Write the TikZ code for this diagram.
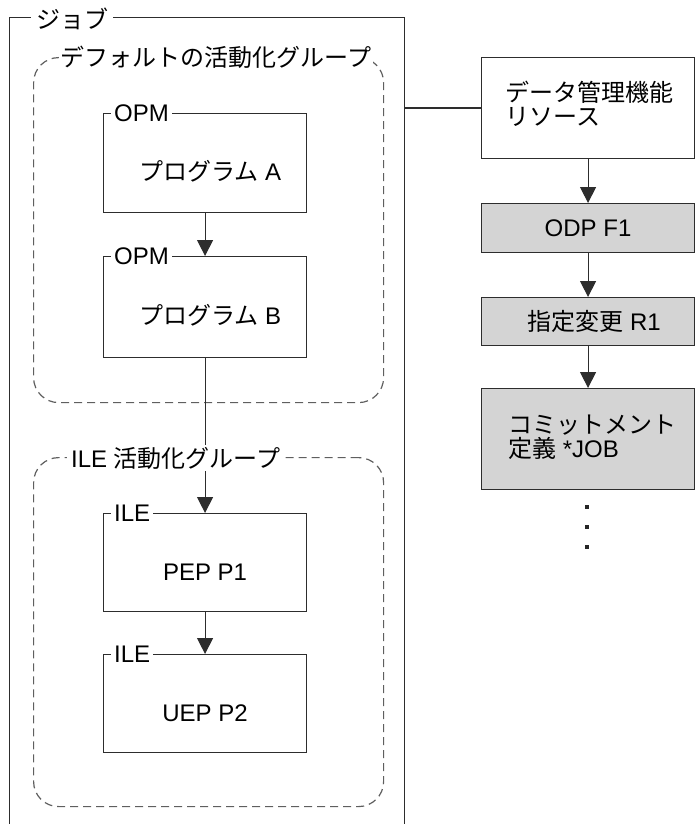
\documentclass[tikz,border=0pt]{standalone}
\usepackage{fontspec}
\setmainfont{Liberation Sans}
\newfontfamily\jp{Noto Sans CJK JP}
\usetikzlibrary{arrows.meta}
\definecolor{ln}{RGB}{45,45,45}
\definecolor{dsh}{RGB}{95,95,95}
\definecolor{shade}{RGB}{212,212,212}
\begin{document}
\begin{tikzpicture}[x=1pt,y=-1pt,
  every node/.style={font=\fontsize{24}{23.5}\selectfont, text=black},
  box/.style={draw=ln, line width=1.1pt, minimum width=203pt, minimum height=99pt, inner sep=0pt},
  rbox/.style={draw=ln, line width=1.1pt, fill=shade, inner sep=0pt, minimum width=213pt},
  grp/.style={draw=dsh, line width=1.2pt, dash pattern=on 8pt off 5pt, rounded corners=25pt, inner sep=0pt},
  tag/.style={fill=white, inner xsep=3pt, inner ysep=1pt, anchor=west},
  arr/.style={draw=ln, line width=1.1pt, -{Triangle[width=16pt,length=16pt]}},
  conn/.style={draw=ln, line width=1.1pt}]
\useasboundingbox (0,0) rectangle (694,824);

% job frame
\node[draw=ln, line width=1.1pt, minimum width=395pt, minimum height=830pt, anchor=north west, inner sep=0pt] (job) at (9,17) {};

% groups
\node[grp, minimum width=350pt, minimum height=345pt, anchor=north west] (defg) at (33,57) {};
\node[grp, minimum width=350pt, minimum height=349pt, anchor=north west] (ileg) at (33,457) {};

% program boxes
\node[box, anchor=north west] (A) at (103,113) {};
\node[box, minimum height=101pt, anchor=north west] (B) at (103,256) {};
\node[box, minimum height=98pt, anchor=north west] (P1) at (103,513) {};
\node[box, minimum height=98pt, anchor=north west] (P2) at (103,654) {};

% right boxes
\node[draw=ln, line width=1.1pt, fill=white, minimum width=213pt, minimum height=101pt, inner sep=0pt, anchor=north west] (dm) at (481,57) {};
\node[rbox, minimum height=49pt, anchor=north west] (odp) at (481,203) {};
\node[rbox, minimum height=48pt, anchor=north west] (ovr) at (481,297) {};
\node[rbox, minimum height=101pt, anchor=north west] (cmt) at (481,388) {};

% connectors
\draw[arr] (A.south) -- (B.north);
\draw[arr] (B.south) -- (P1.north);
\draw[arr] (P1.south) -- (P2.north);
\draw[conn] (dm.west) -- (dm.west -| job.east);
\draw[arr] (dm.south) -- (odp.north);
\draw[arr] (odp.south) -- (ovr.north);
\draw[arr] (ovr.south) -- (cmt.north);

% frame / group labels
\node[tag, inner xsep=5pt] (jobl) at (31,19) {\jp ジョブ};
\node[fill=white, inner xsep=2pt, inner ysep=1pt] (defl) at (216,57) {\jp デフォルトの活動化グループ};
\node[tag, inner xsep=4pt, inner ysep=2pt] (ilel) at (67,458) {ILE {\jp 活動化グループ}\hspace{11pt}};

% box tags
\node[tag] (tA) at ([xshift=8pt]A.north west) {OPM};
\node[tag] (tB) at ([xshift=8pt]B.north west) {OPM};
\node[tag] (t1) at ([xshift=8pt]P1.north west) {ILE};
\node[tag] (t2) at ([xshift=8pt]P2.north west) {ILE};

% box texts
\node (xA) at ([xshift=5pt,yshift=-8pt]A.center) {{\jp プログラム} A};
\node (xB) at ([xshift=5pt,yshift=-8pt]B.center) {{\jp プログラム} B};
\node (x1) at ([yshift=-10pt]P1.center) {PEP P1};
\node (x2) at ([yshift=-10pt]P2.center) {UEP P2};

\node[align=left, anchor=west, inner sep=0pt] (xdm) at (505,104) {\jp データ管理機能\\\jp リソース};
\node (xodp) at (odp.center) {ODP F1};
\node (xovr) at ([xshift=6pt]ovr.center) {{\jp 指定変更} R1};
\node[align=left, anchor=west, inner sep=0pt, font=\fontsize{24}{24.5}\selectfont] (xcmt) at (508,437) {\jp コミットメント\\{\jp 定義} *JOB};

% continuation dots
\fill[black!85] (585,505) rectangle (589,509);
\fill[black!85] (585,525) rectangle (589,529);
\fill[black!85] (585,545) rectangle (589,549);
\end{tikzpicture}
\end{document}
